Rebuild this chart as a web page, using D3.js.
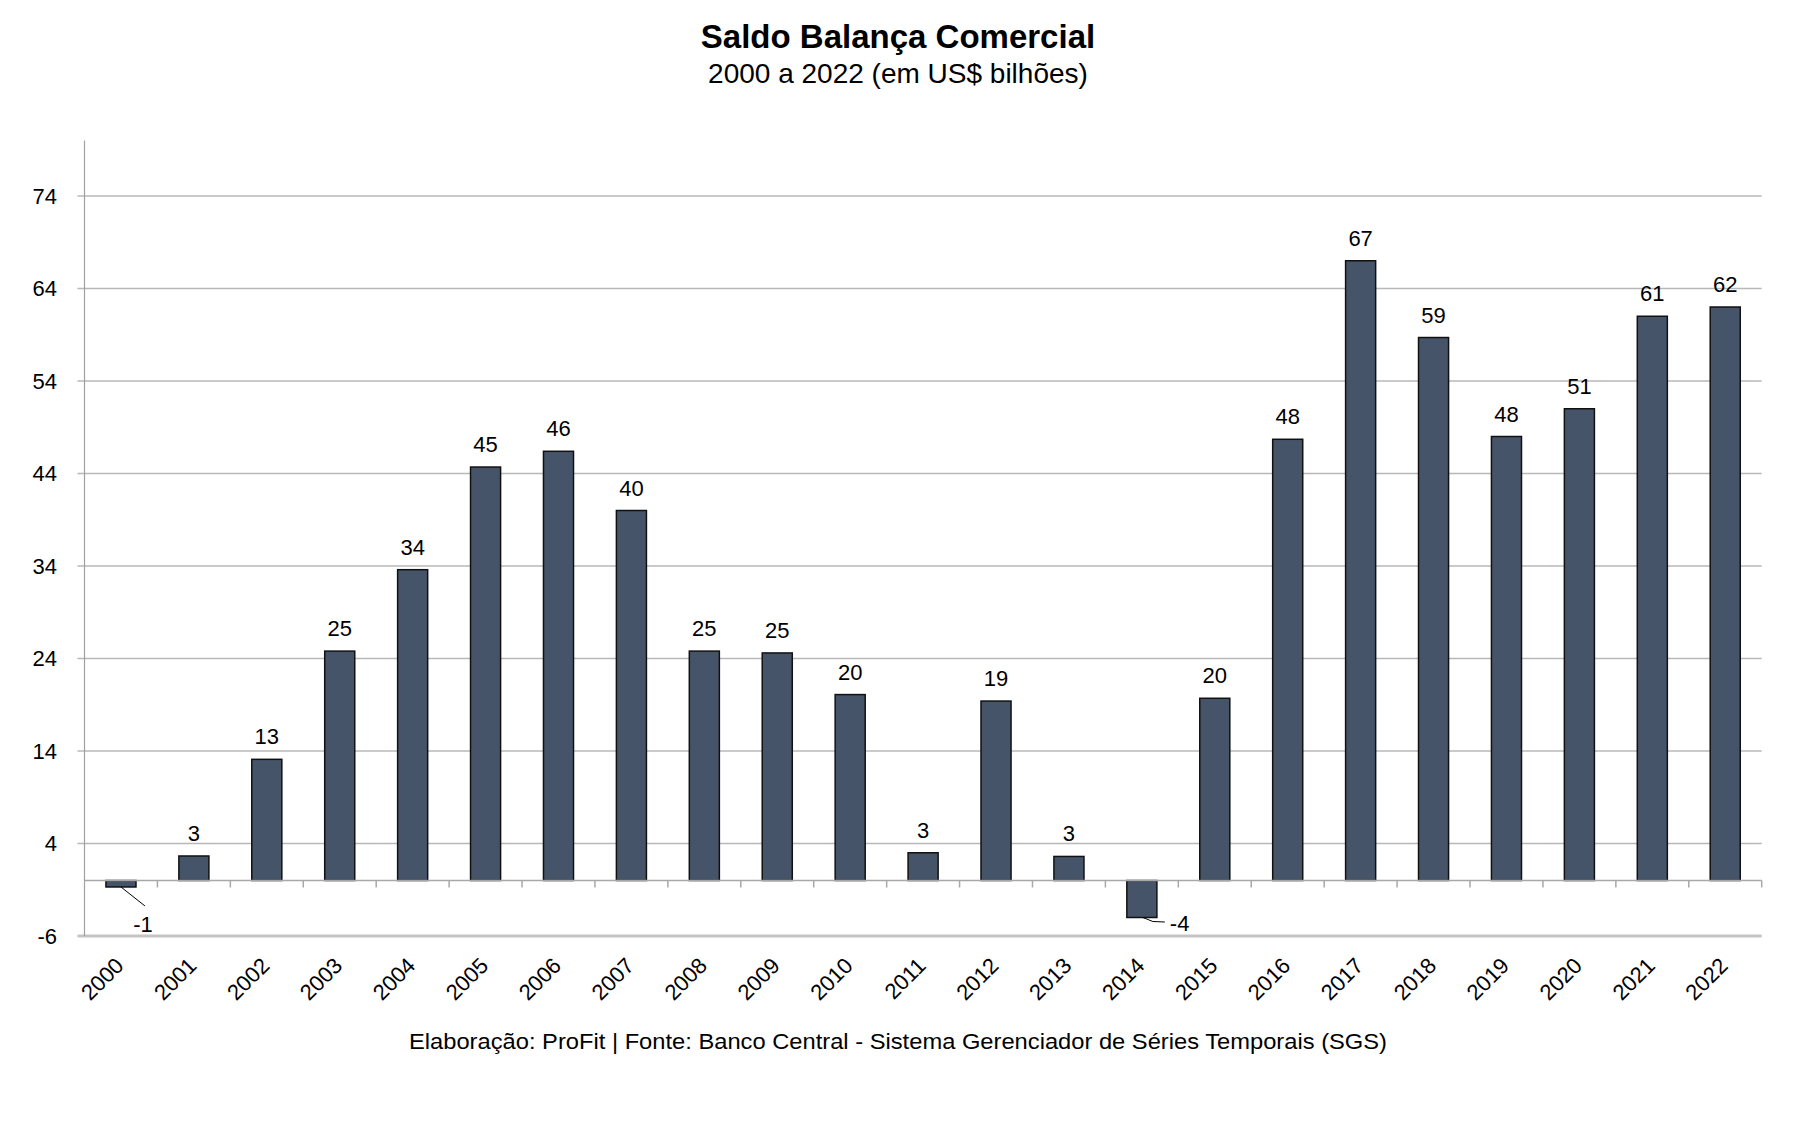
<!DOCTYPE html>
<html>
<head>
<meta charset="utf-8">
<script src="https://cdn.jsdelivr.net/npm/d3@7"></script>
<style>
  html, body { margin: 0; padding: 0; background: #ffffff; }
  svg { display: block; }
  text { font-family: "Liberation Sans", Arial, sans-serif; fill: #000; }
</style>
</head>
<body>
<svg id="chart" width="1798" height="1123"></svg>
<script>
// ---- Data ----
const years = ["2000","2001","2002","2003","2004","2005","2006","2007","2008","2009","2010","2011",
               "2012","2013","2014","2015","2016","2017","2018","2019","2020","2021","2022"];
const saldo = [-0.7, 2.65, 13.1, 24.8, 33.6, 44.7, 46.4, 40.0, 24.8, 24.6, 20.1, 3.0,
               19.4, 2.6, -4.0, 19.7, 47.7, 67.0, 58.7, 48.0, 51.0, 61.0, 62.0];
const yTicks = [-6, 4, 14, 24, 34, 44, 54, 64, 74];
const title = "Saldo Balança Comercial";
const subtitle = "2000 a 2022 (em US$ bilhões)";
const footer = "Elaboração: ProFit | Fonte: Banco Central - Sistema Gerenciador de Séries Temporais (SGS)";

(function () {
// ---- Layout ----
const svg = d3.select("#chart");
const pLeft = 84.5, pRight = 1761.7, pTop = 140.5, pBottom = 936;

const x = d3.scaleBand().domain(years).range([pLeft, pRight]).paddingInner(0.588).paddingOuter(0.294);
const y = d3.scaleLinear().domain([-6, 80]).range([pBottom, pTop]);
const step = x.step();

// Title
svg.append("text").attr("x", 898).attr("y", 48).attr("text-anchor", "middle")
  .attr("font-size", 33).attr("font-weight", "bold").text(title);
svg.append("text").attr("x", 898).attr("y", 83).attr("text-anchor", "middle")
  .attr("font-size", 28).text(subtitle);

// Gridlines
svg.append("g").selectAll("line").data(yTicks.filter(t => t !== -6)).join("line")
  .attr("x1", pLeft - 7).attr("x2", pRight)
  .attr("y1", d => y(d)).attr("y2", d => y(d))
  .attr("stroke", "#b8b8b8").attr("stroke-width", 1.5);

// Bottom (-6) line, thicker
svg.append("line").attr("x1", pLeft - 7).attr("x2", pRight)
  .attr("y1", y(-6)).attr("y2", y(-6))
  .attr("stroke", "#c4c4c4").attr("stroke-width", 3);

// Y axis line
svg.append("line").attr("x1", pLeft).attr("x2", pLeft).attr("y1", pTop).attr("y2", pBottom)
  .attr("stroke", "#a0a0a0").attr("stroke-width", 1.2);

// Y tick labels
svg.append("g").selectAll("text").data(yTicks).join("text")
  .attr("x", 57).attr("y", d => y(d)).attr("dy", "0.35em")
  .attr("text-anchor", "end").attr("font-size", 22).text(d => d);

// Bars
svg.append("g").selectAll("rect").data(saldo).join("rect")
  .attr("x", (d, i) => x(years[i]))
  .attr("width", x.bandwidth())
  .attr("y", d => y(Math.max(0, d)))
  .attr("height", d => Math.abs(y(d) - y(0)))
  .attr("fill", "#465469").attr("stroke", "#111").attr("stroke-width", 1.5);

// Zero line with category tick marks
svg.append("line").attr("x1", pLeft).attr("x2", pRight)
  .attr("y1", y(0)).attr("y2", y(0))
  .attr("stroke", "#a8a8a8").attr("stroke-width", 1.5);
const bounds = years.map((yr, i) => pLeft + i * step).concat([pRight]);
svg.append("g").selectAll("line").data(bounds.slice(1)).join("line")
  .attr("x1", d => d).attr("x2", d => d)
  .attr("y1", y(0)).attr("y2", y(0) + 7)
  .attr("stroke", "#a8a8a8").attr("stroke-width", 1.5);

// Data labels
const cx = i => x(years[i]) + x.bandwidth() / 2;
const lab = svg.append("g");
saldo.forEach((v, i) => {
  const label = Math.round(v);
  if (v >= 0) {
    lab.append("text").attr("x", cx(i)).attr("y", y(v) - 15)
      .attr("text-anchor", "middle").attr("font-size", 22).text(label);
  } else if (i === 0) {
    const yb = y(v);
    lab.append("line").attr("x1", cx(i)).attr("y1", yb).attr("x2", cx(i) + 24).attr("y2", yb + 19)
      .attr("stroke", "#000").attr("stroke-width", 1);
    lab.append("text").attr("x", cx(i) + 22).attr("y", yb + 45.5)
      .attr("text-anchor", "middle").attr("font-size", 22).text(label);
  } else {
    const yb = y(v);
    lab.append("path")
      .attr("d", d3.line()([[cx(i) + 1, yb], [cx(i) + 11, yb + 4], [cx(i) + 23, yb + 4.5]]))
      .attr("fill", "none").attr("stroke", "#000").attr("stroke-width", 1);
    lab.append("text").attr("x", cx(i) + 28).attr("y", yb + 13)
      .attr("text-anchor", "start").attr("font-size", 22).text(label);
  }
});

// X labels rotated
svg.append("g").selectAll("text").data(years).join("text")
  .attr("transform", d => `translate(${x(d) + x.bandwidth() / 2 + 4},${967}) rotate(-45)`)
  .attr("text-anchor", "end").attr("font-size", 22).text(d => d);

// Footer
svg.append("text").attr("x", 898).attr("y", 1049).attr("text-anchor", "middle")
  .attr("font-size", 22).attr("textLength", 978).attr("lengthAdjust", "spacingAndGlyphs")
  .text(footer);
})();
</script>
</body>
</html>
